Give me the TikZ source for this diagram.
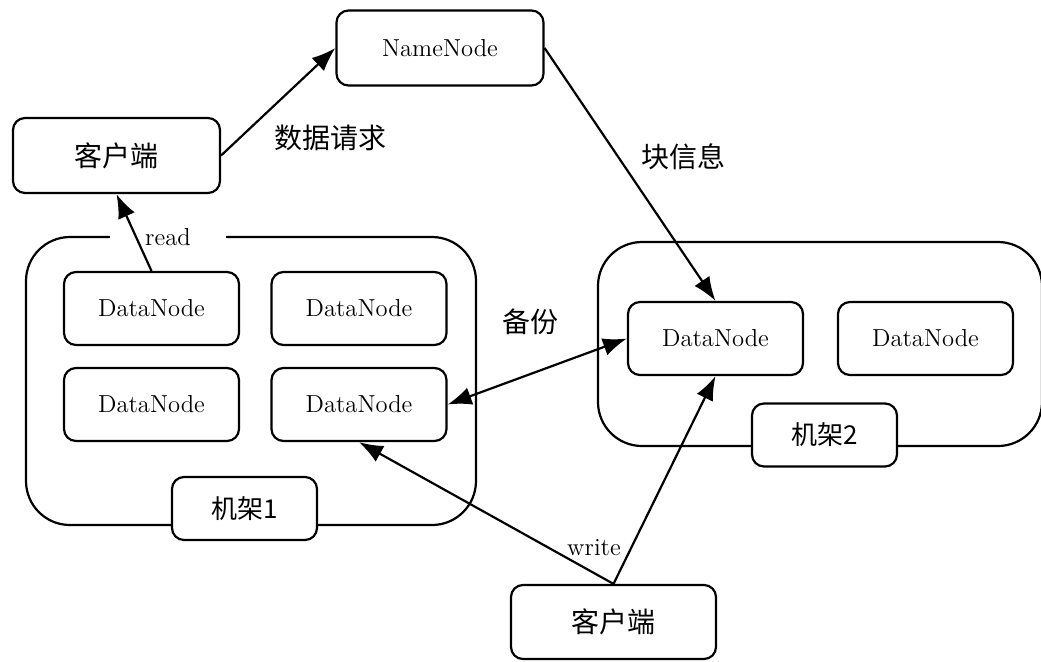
\documentclass[tikz,border=0pt]{standalone}
\usepackage{fontspec}
\newfontfamily\cjk{Noto Sans CJK SC}
\usetikzlibrary{arrows.meta}

\tikzset{
  box/.style={draw=black,line width=1.1pt,rounded corners=6pt,fill=white,
    minimum width=87.5pt,minimum height=36.5pt,inner sep=0pt,
    font=\fontsize{12.3}{14}\selectfont},
  bigbox/.style={box,minimum width=103.5pt,minimum height=37.5pt},
  rack/.style={draw=black,line width=1.1pt,rounded corners=22pt,inner sep=0pt},
  racklbl/.style={box,minimum width=72.5pt,minimum height=31.5pt,font=\cjk\fontsize{13}{15}\selectfont},
  lbl/.style={inner sep=1pt,font=\fontsize{12.3}{14}\selectfont},
  cjklbl/.style={inner sep=1pt,font=\cjk\fontsize{14}{16}\selectfont},
  arr/.style={line width=1.1pt,-{Latex[length=12pt,width=9pt]}},
  dblarr/.style={line width=1.1pt,{Latex[length=12pt,width=9pt]}-{Latex[length=12pt,width=9pt]}}
}

\begin{document}
\begin{tikzpicture}[x=0.5pt,y=-0.5pt]
\useasboundingbox (0,0) rectangle (1041,661);

% racks
\node[rack,minimum width=225pt,minimum height=144pt] (rackA) at (251,381) {};
\node[rack,minimum width=222pt,minimum height=102pt] (rackB) at (820,344) {};

% gap in the top edge of rack 1
\node[lbl,fill=white,minimum width=58pt] (readlbl) at (168,237) {read};

% top row
\node[bigbox] (namenode) at (440,48) {NameNode};
\node[bigbox,font=\cjk\fontsize{14}{16}\selectfont] (cltop) at (116.5,155.5) {客户端};

% rack 1
\node[box] (dnA1) at (151.5,308.5) {DataNode};
\node[box] (dnA2) at (359,308.5) {DataNode};
\node[box] (dnA3) at (151.5,404.5) {DataNode};
\node[box] (dnA4) at (359,404.5) {DataNode};
\node[racklbl] (rackAlbl) at (244.5,508.5) {机架1};

% rack 2
\node[box] (dnB1) at (715.5,338.5) {DataNode};
\node[box] (dnB2) at (925.5,338.5) {DataNode};
\node[racklbl] (rackBlbl) at (824.5,435) {机架2};

% client below
\node[bigbox,minimum width=102.5pt,minimum height=37pt,font=\cjk\fontsize{14}{16}\selectfont] (clbot) at (613.5,622) {客户端};

% arrows
\draw[arr] (cltop.east) -- (namenode.west);
\draw[arr] (namenode.east) -- (dnB1.north);
\draw[arr] (dnA1.north) -- (cltop.south);
\draw[dblarr] (dnA4.east) -- (dnB1.west);
\draw[arr] (clbot.north) -- (dnA4.south);
\draw[arr] (clbot.north) -- (dnB1.south);

% labels
\node[cjklbl] (reqlbl) at (330,138) {数据请求};
\node[cjklbl] (blklbl) at (683,157) {块信息};
\node[cjklbl] (baklbl) at (530,322) {备份};
\node[lbl] (writelbl) at (594,548) {write};

\end{tikzpicture}
\end{document}
